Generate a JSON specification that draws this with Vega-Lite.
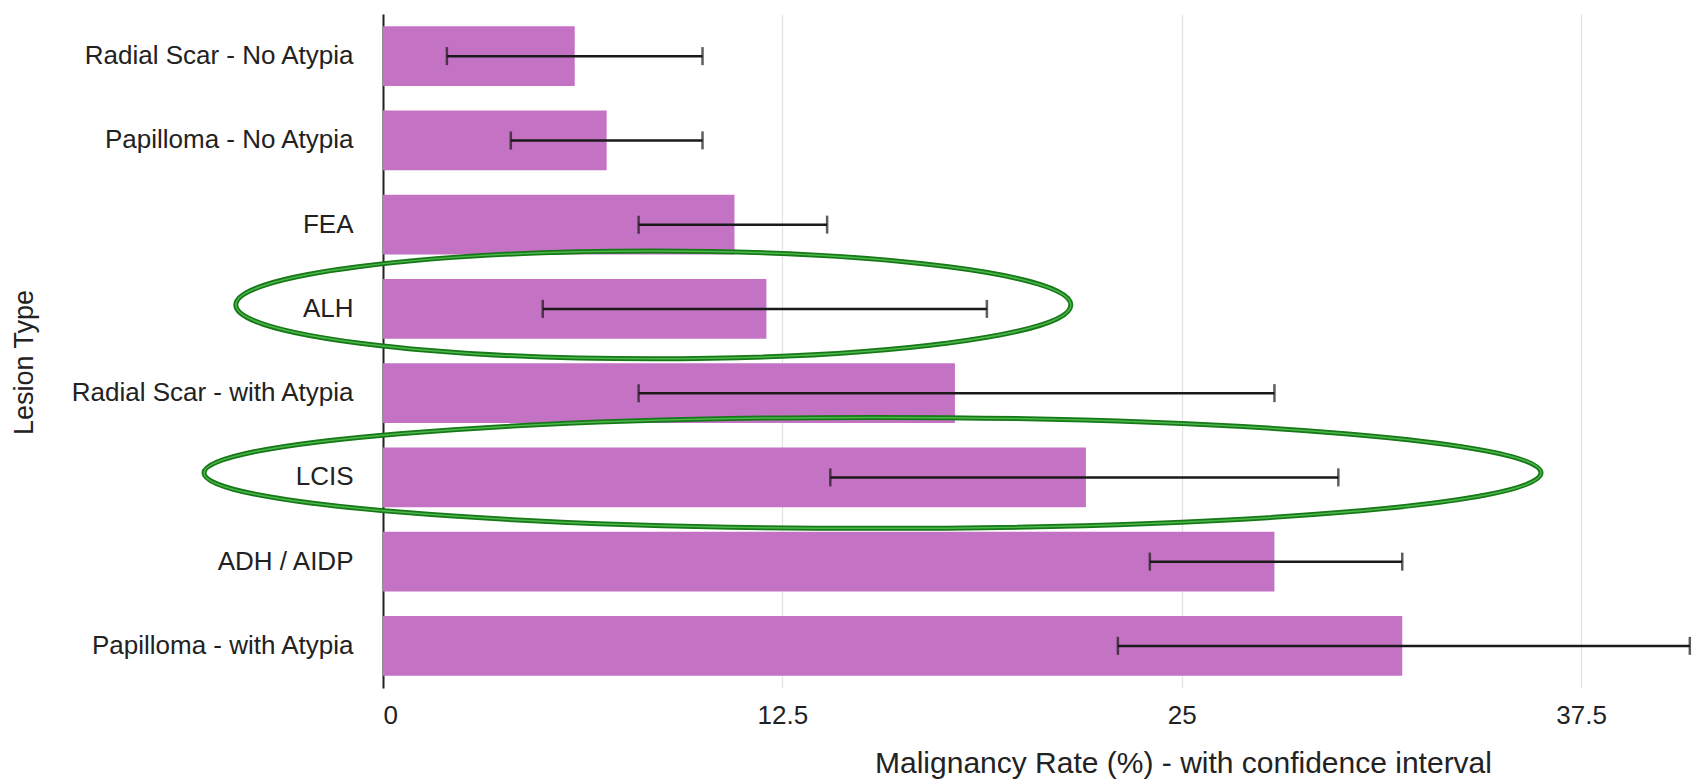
{
  "$schema": "https://vega.github.io/schema/vega-lite/v6.json",
  "autosize": "none",
  "width": 1310,
  "height": 674,
  "padding": {"left": 383, "top": 14, "right": 3, "bottom": 93},
  "background": "white",
  "config": {
    "view": {"stroke": null},
    "font": "Liberation Sans"
  },
  "datasets": {
    "rates": [
      {"lesion": "Radial Scar - No Atypia", "rate": 6.0, "lo": 2.0, "hi": 10.0},
      {"lesion": "Papilloma - No Atypia", "rate": 7.0, "lo": 4.0, "hi": 10.0},
      {"lesion": "FEA", "rate": 11.0, "lo": 8.0, "hi": 13.9},
      {"lesion": "ALH", "rate": 12.0, "lo": 5.0, "hi": 18.9},
      {"lesion": "Radial Scar - with Atypia", "rate": 17.9, "lo": 8.0, "hi": 27.9},
      {"lesion": "LCIS", "rate": 22.0, "lo": 14.0, "hi": 29.9},
      {"lesion": "ADH / AIDP", "rate": 27.9, "lo": 24.0, "hi": 31.9},
      {"lesion": "Papilloma - with Atypia", "rate": 31.9, "lo": 23.0, "hi": 40.9}
    ],
    "alh_ring": [{"lesion": "ALH", "cx": 8.46}],
    "lcis_ring": [{"lesion": "LCIS", "cx": 15.32}]
  },
  "layer": [
    {
      "data": {"name": "rates"},
      "mark": {"type": "bar", "color": "#C472C4"},
      "encoding": {
        "y": {
          "field": "lesion",
          "type": "nominal",
          "sort": ["Radial Scar - No Atypia", "Papilloma - No Atypia", "FEA", "ALH", "Radial Scar - with Atypia", "LCIS", "ADH / AIDP", "Papilloma - with Atypia"],
          "scale": {"paddingInner": 0.288, "paddingOuter": 0.144},
          "axis": {
            "title": "Lesion Type",
            "titleFontSize": 27,
            "titleFontWeight": "normal",
            "titleColor": "#222",
            "titleAngle": 270,
            "titleX": -359,
            "titleY": 348,
            "titleAlign": "center",
            "titleBaseline": "middle",
            "labelFontSize": 26,
            "labelColor": "#222",
            "labelPadding": 30,
            "labelLimit": 400,
            "ticks": false,
            "domain": true,
            "domainColor": "#222",
            "domainWidth": 2,
            "grid": false
          }
        },
        "x": {
          "field": "rate",
          "type": "quantitative",
          "scale": {"domain": [0, 41], "nice": false},
          "axis": {
            "title": "Malignancy Rate (%) - with confidence interval",
            "titleFontSize": 30,
            "titleFontWeight": "normal",
            "titleColor": "#222",
            "titleX": 800,
            "titleY": 75,
            "titleAlign": "center",
            "titleBaseline": "middle",
            "values": [0, 12.5, 25, 37.5],
            "format": ".1~f",
            "labelFontSize": 26,
            "labelColor": "#222",
            "labelPadding": 14,
            "ticks": false,
            "domain": false,
            "grid": true,
            "gridColor": "#e2e2e2",
            "gridWidth": 1.2
          }
        }
      }
    },
    {
      "data": {"name": "rates"},
      "mark": {"type": "rule", "color": "#1a1a1a", "strokeWidth": 2.5},
      "encoding": {
        "y": {"field": "lesion", "type": "nominal", "sort": ["Radial Scar - No Atypia", "Papilloma - No Atypia", "FEA", "ALH", "Radial Scar - with Atypia", "LCIS", "ADH / AIDP", "Papilloma - with Atypia"]},
        "x": {"field": "lo", "type": "quantitative"},
        "x2": {"field": "hi"}
      }
    },
    {
      "data": {"name": "rates"},
      "mark": {"type": "tick", "color": "#1a1a1a", "thickness": 2.5, "size": 18, "orient": "vertical"},
      "encoding": {
        "y": {"field": "lesion", "type": "nominal", "sort": ["Radial Scar - No Atypia", "Papilloma - No Atypia", "FEA", "ALH", "Radial Scar - with Atypia", "LCIS", "ADH / AIDP", "Papilloma - with Atypia"]},
        "x": {"field": "lo", "type": "quantitative"}
      }
    },
    {
      "data": {"name": "rates"},
      "mark": {"type": "tick", "color": "#1a1a1a", "thickness": 2.5, "size": 18, "orient": "vertical"},
      "encoding": {
        "y": {"field": "lesion", "type": "nominal", "sort": ["Radial Scar - No Atypia", "Papilloma - No Atypia", "FEA", "ALH", "Radial Scar - with Atypia", "LCIS", "ADH / AIDP", "Papilloma - with Atypia"]},
        "x": {"field": "hi", "type": "quantitative"}
      }
    },
    {
      "data": {"name": "alh_ring"},
      "mark": {
        "type": "point",
        "shape": "M -1 0 C -1 -0.0712 -0.5523 -0.129 0 -0.129 C 0.5523 -0.129 1 -0.0712 1 0 C 1 0.0712 0.5523 0.129 0 0.129 C -0.5523 0.129 -1 0.0712 -1 0 Z",
        "size": 697225,
        "filled": false,
        "stroke": "#167816",
        "strokeWidth": 5,
        "opacity": 1,
        "yOffset": -4,
        "clip": false
      },
      "encoding": {
        "y": {"field": "lesion", "type": "nominal", "sort": ["Radial Scar - No Atypia", "Papilloma - No Atypia", "FEA", "ALH", "Radial Scar - with Atypia", "LCIS", "ADH / AIDP", "Papilloma - with Atypia"]},
        "x": {"field": "cx", "type": "quantitative"}
      }
    },
    {
      "data": {"name": "alh_ring"},
      "mark": {
        "type": "point",
        "shape": "M -1 0 C -1 -0.0712 -0.5523 -0.129 0 -0.129 C 0.5523 -0.129 1 -0.0712 1 0 C 1 0.0712 0.5523 0.129 0 0.129 C -0.5523 0.129 -1 0.0712 -1 0 Z",
        "size": 697225,
        "filled": false,
        "stroke": "#4cb84c",
        "strokeWidth": 1.5,
        "opacity": 1,
        "yOffset": -4,
        "clip": false
      },
      "encoding": {
        "y": {"field": "lesion", "type": "nominal", "sort": ["Radial Scar - No Atypia", "Papilloma - No Atypia", "FEA", "ALH", "Radial Scar - with Atypia", "LCIS", "ADH / AIDP", "Papilloma - with Atypia"]},
        "x": {"field": "cx", "type": "quantitative"}
      }
    },
    {
      "data": {"name": "lcis_ring"},
      "mark": {
        "type": "point",
        "shape": "M -1 0 C -1 -0.0458 -0.5523 -0.083 0 -0.083 C 0.5523 -0.083 1 -0.0458 1 0 C 1 0.0458 0.5523 0.083 0 0.083 C -0.5523 0.083 -1 0.0458 -1 0 Z",
        "size": 1787569,
        "filled": false,
        "stroke": "#167816",
        "strokeWidth": 5,
        "opacity": 1,
        "yOffset": -4.5,
        "clip": false
      },
      "encoding": {
        "y": {"field": "lesion", "type": "nominal", "sort": ["Radial Scar - No Atypia", "Papilloma - No Atypia", "FEA", "ALH", "Radial Scar - with Atypia", "LCIS", "ADH / AIDP", "Papilloma - with Atypia"]},
        "x": {"field": "cx", "type": "quantitative"}
      }
    },
    {
      "data": {"name": "lcis_ring"},
      "mark": {
        "type": "point",
        "shape": "M -1 0 C -1 -0.0458 -0.5523 -0.083 0 -0.083 C 0.5523 -0.083 1 -0.0458 1 0 C 1 0.0458 0.5523 0.083 0 0.083 C -0.5523 0.083 -1 0.0458 -1 0 Z",
        "size": 1787569,
        "filled": false,
        "stroke": "#4cb84c",
        "strokeWidth": 1.5,
        "opacity": 1,
        "yOffset": -4.5,
        "clip": false
      },
      "encoding": {
        "y": {"field": "lesion", "type": "nominal", "sort": ["Radial Scar - No Atypia", "Papilloma - No Atypia", "FEA", "ALH", "Radial Scar - with Atypia", "LCIS", "ADH / AIDP", "Papilloma - with Atypia"]},
        "x": {"field": "cx", "type": "quantitative"}
      }
    }
  ]
}
